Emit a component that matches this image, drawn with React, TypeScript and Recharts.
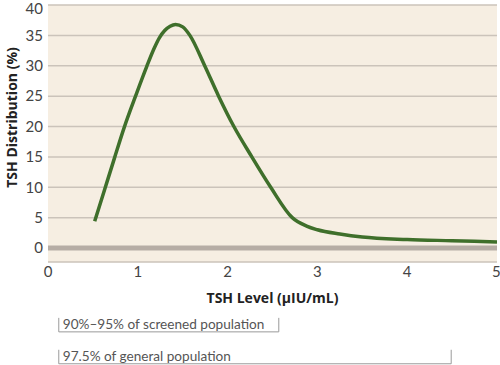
import {
  LineChart,
  Line,
  XAxis,
  YAxis,
  CartesianGrid,
  ReferenceLine,
  Label,
} from "recharts";

const tshLevels = [0.52, 0.63, 0.74, 0.85, 0.98, 1.1, 1.18, 1.24, 1.3, 1.36, 1.42, 1.5, 1.58, 1.745, 1.9, 2.07, 2.27, 2.48, 2.72, 2.88, 3.0, 3.25, 3.5, 4.0, 4.5, 5.0];
const distribution = [4.4, 9.6, 14.8, 19.9, 25.2, 29.9, 32.8, 34.6, 35.8, 36.5, 36.8, 36.4, 35, 30, 25, 20, 15, 10, 5, 3.6, 3.0, 2.3, 1.8, 1.4, 1.2, 1.0];

const xTicks = [0, 1, 2, 3, 4, 5];
const yTicks = [0, 5, 10, 15, 20, 25, 30, 35, 40];

const bracketLabels = ["90%\u201395% of screened population", "97.5% of general population"];
const bracketStart = [0.12, 0.12];
const bracketEnd = [2.57, 4.49];

const data = tshLevels.map((x, i) => ({ x, y: distribution[i] }));

// rows below the plot, in y units (the axis keeps going under 0)
const bracketRows = [-13.8, -19.05];

const font = "Lato, 'Open Sans', sans-serif";
const titleFont = "'Open Sans', sans-serif";

function Bracket(props: any) {
  const { x1, y1, x2, label } = props;
  const h = 14;
  return (
    <g>
      <path
        d={`M${x1},${y1 - h} L${x1},${y1} L${x2},${y1} L${x2},${y1 - h}`}
        fill="none"
        stroke="#9a9a9a"
        strokeWidth={1}
      />
      <text x={x1 + 4} y={y1 - 3} fontSize={13.6} fill="#555" fontFamily={font}>
        {label}
      </text>
    </g>
  );
}

function YTitle({ viewBox }: any) {
  const x = viewBox.x + 11;
  const y = viewBox.y + viewBox.height / 2 - 16;
  return (
    <text
      x={x}
      y={y}
      transform={`rotate(-90, ${x}, ${y})`}
      textAnchor="middle"
      dominantBaseline="central"
      fontSize={14}
      fontWeight={700}
      fill="#222"
      fontFamily={titleFont}
    >
      TSH Distribution (%)
    </text>
  );
}

export default function App() {
  return (
    <div style={{ position: "absolute", left: 0, top: 0, background: "#fff" }}>
      <LineChart
        width={500}
        height={365}
        data={data}
        margin={{ top: 5, right: 3, left: 0, bottom: 58 }}
      >
        <CartesianGrid
          vertical={false}
          fill="#f6eee2"
          stroke="#cbc3ba"
          strokeWidth={1.5}
        />
        <XAxis
          dataKey="x"
          type="number"
          domain={[0, 5]}
          ticks={xTicks}
          axisLine={false}
          tickLine={false}
          tickSize={0}
          tickMargin={4}
          height={45}
          tick={{ fontSize: 15, fill: "#444", fontFamily: font }}
        >
          <Label
            value="TSH Level (µIU/mL)"
            position="insideBottom"
            offset={4}
            style={{ fontSize: 14, fontWeight: 700, fill: "#222", fontFamily: titleFont }}
          />
        </XAxis>
        <YAxis
          type="number"
          domain={[-2.3, 40]}
          ticks={yTicks}
          axisLine={false}
          tickLine={false}
          tickSize={0}
          tickMargin={5}
          width={48}
          tick={{ fontSize: 15, fill: "#444", fontFamily: font }}
        >
          <Label content={YTitle} />
        </YAxis>
        <ReferenceLine y={0} stroke="#b6ada5" strokeWidth={5} />
        <Line
          dataKey="y"
          type="monotone"
          stroke="#3f6f2b"
          strokeWidth={3.5}
          dot={false}
          isAnimationActive={false}
        />
        {bracketLabels.map((label, i) => (
          <ReferenceLine
            key={label}
            ifOverflow="visible"
            segment={[
              { x: bracketStart[i], y: bracketRows[i] },
              { x: bracketEnd[i], y: bracketRows[i] },
            ]}
            shape={(p: any) => <Bracket {...p} label={label} />}
          />
        ))}
      </LineChart>
    </div>
  );
}
